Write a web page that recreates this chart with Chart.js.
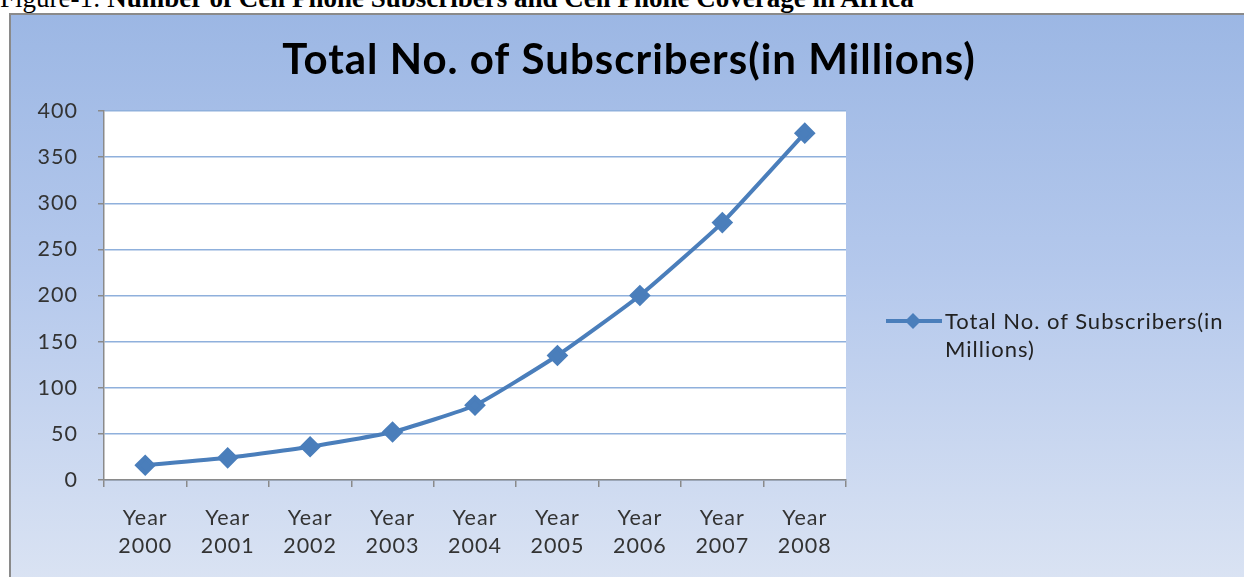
<!DOCTYPE html>
<html><head><meta charset="utf-8">
<script src="https://cdn.jsdelivr.net/npm/chart.js@4/dist/chart.umd.min.js"></script>
<style>
html,body{margin:0;padding:0;background:#fff;width:1244px;height:577px;overflow:hidden;}
#cap{position:absolute;left:0;top:-17px;font-family:"Liberation Serif","Times New Roman",serif;font-size:27px;line-height:30px;color:#000;white-space:nowrap;}
#frame{position:absolute;left:9px;top:13px;width:1240px;height:570px;border:2px solid #8a8a8a;background:linear-gradient(to bottom,#9cb7e4 0%,#b4c8ec 45%,#dae3f3 100%);box-sizing:border-box;}
#wrap{position:absolute;left:1px;top:1px;width:1234px;height:563px;}
#legend{position:absolute;left:886px;top:307px;font-family:Lato,"Open Sans",sans-serif;font-size:22px;letter-spacing:1px;line-height:28px;color:#222;}
#legend svg{position:absolute;left:0;top:4px;}
#legend div{position:absolute;left:59px;top:0;white-space:nowrap;}
</style></head>
<body>
<div id="cap">Figure-1: <b>Number of Cell Phone Subscribers and Cell Phone Coverage in Africa</b></div>
<div id="frame">
<div id="wrap"><canvas id="c" width="1234" height="563"></canvas></div>
</div>
<div id="legend"><svg width="58" height="20"><line x1="0" y1="10" x2="56" y2="10" stroke="#4a7ebb" stroke-width="4"/><polygon points="27,2 35,10 27,18 19,10" fill="#4a7ebb"/></svg><div>Total No. of Subscribers(in<br>Millions)</div></div>
<script>
const categories = [["Year","2000"],["Year","2001"],["Year","2002"],["Year","2003"],["Year","2004"],["Year","2005"],["Year","2006"],["Year","2007"],["Year","2008"]];
const subscribers = [16, 24, 36, 52, 81, 135, 200, 279, 376];
const seriesName = "Total No. of Subscribers(in Millions)";
const chartTitle = "Total No. of Subscribers(in Millions)";
const yTicks = [0, 50, 100, 150, 200, 250, 300, 350, 400];

const plotBg = {
  id:'plotBg',
  beforeDraw(chart){
    const a = chart.chartArea, ctx = chart.ctx;
    ctx.letterSpacing = '1px';
    ctx.save(); ctx.fillStyle = '#ffffff';
    ctx.fillRect(a.left, a.top, a.right - a.left, a.bottom - a.top);
    ctx.restore();
  }
};
const FONT = "Lato, 'Open Sans', sans-serif";
new Chart(document.getElementById('c'), {
  type:'line',
  data:{labels:categories, datasets:[{label:seriesName, data:subscribers, borderColor:'#4a7ebb', backgroundColor:'#4a7ebb', borderWidth:4, pointStyle:'rectRot', pointRadius:8, pointHoverRadius:8, tension:0.15, fill:false}]},
  options:{
    responsive:false, animation:false,
    layout:{padding:{left:0,right:0,top:0,bottom:0}},
    plugins:{
      legend:{display:false}, tooltip:{enabled:false},
      title:{display:true, text:chartTitle, color:'#000', font:{family:FONT, size:42, weight:'bold'}, padding:{top:19,bottom:25.6}}
    },
    scales:{
      x:{offset:true, grid:{offset:true, drawOnChartArea:false, drawTicks:true, tickLength:7, color:'#8a8a8a', lineWidth:1.5},
         border:{display:true, color:'#8a8a8a', width:1.5},
         ticks:{color:'#333', padding:17, maxRotation:0, font:{family:FONT, size:21.5, lineHeight:1.3}},
         afterFit(s){ s.height = 99; }},
      y:{min:0, max:400, afterBuildTicks(s){ s.ticks = yTicks.map(v=>({value:v})); },
         grid:{color:'#8fb0dc', lineWidth:1.5, tickColor:'#8a8a8a', tickLength:6},
         border:{display:true, color:'#8a8a8a', width:1.5},
         ticks:{color:'#333', padding:20, font:{family:FONT, size:21.5}},
         afterFit(s){ s.width = 92; }},
      y2:{position:'right', display:true, grid:{display:false}, border:{display:false}, ticks:{display:false},
         afterFit(s){ s.width = 400; }}
    }
  },
  plugins:[plotBg]
});
</script>
</body></html>
